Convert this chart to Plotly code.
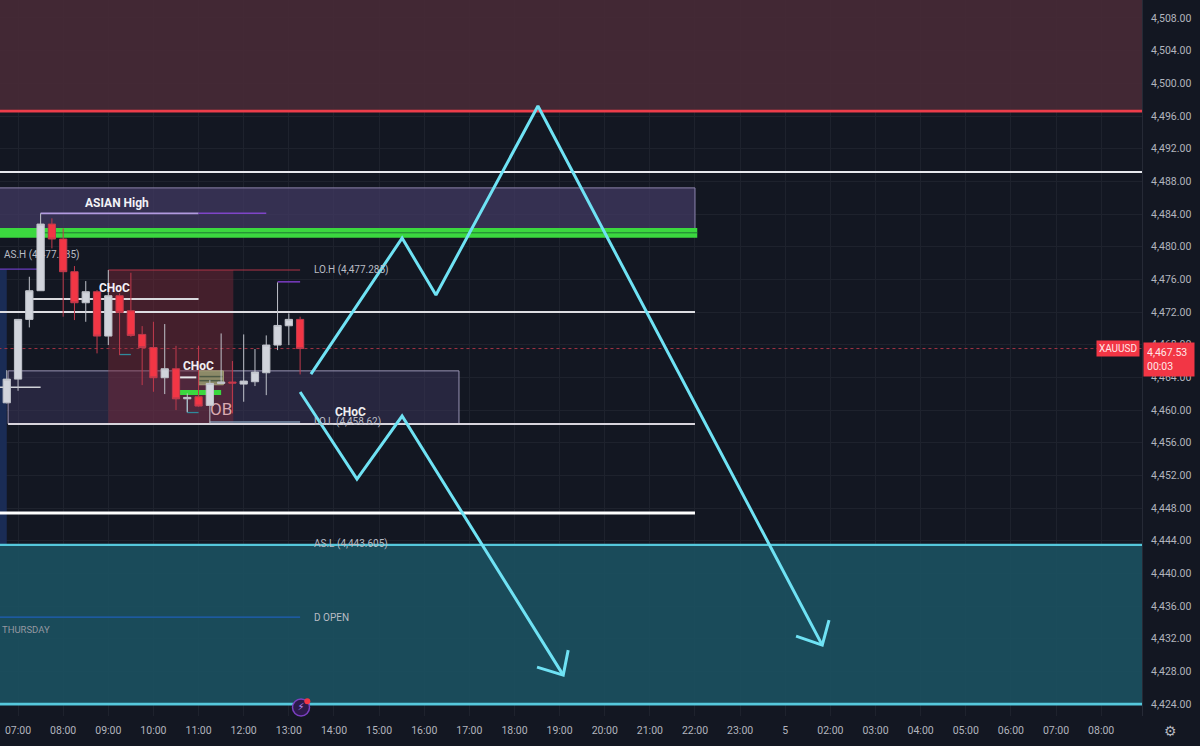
import plotly.graph_objects as go

FONT = "Roboto"
BG = "#131722"

# ---- data ----
candle_hours = [6.75, 7.0, 7.25, 7.5, 7.75, 8.0, 8.25, 8.5, 8.75, 9.0, 9.25, 9.5, 9.75,
                10.0, 10.25, 10.5, 10.75, 11.0, 11.25, 11.5, 11.75, 12.0, 12.25, 12.5,
                12.75, 13.0, 13.25]
candle_open = [4460.89, 4463.79, 4471.10, 4474.61, 4482.77, 4480.94, 4476.94, 4473.14, 4474.49,
               4469.06, 4474.00, 4472.16, 4469.26, 4467.66, 4463.96, 4465.06, 4461.38, 4461.63,
               4460.57, 4463.26, 4463.43, 4463.18, 4463.47, 4464.57, 4467.96, 4470.32, 4471.10]
candle_close = [4463.79, 4471.10, 4474.61, 4482.77, 4480.94, 4476.94, 4473.14, 4474.49, 4469.06,
                4474.00, 4471.96, 4469.14, 4467.66, 4463.96, 4465.06, 4461.38, 4461.55, 4460.49,
                4463.26, 4463.43, 4463.30, 4463.55, 4464.65, 4467.96, 4470.36, 4471.10, 4467.53]
candle_high = [4464.89, 4471.10, 4476.32, 4484.08, 4483.47, 4482.24, 4477.63, 4475.79, 4474.69,
               4477.14, 4474.28, 4476.81, 4470.28, 4470.81, 4470.53, 4467.87, 4462.04, 4467.87,
               4463.67, 4469.38, 4466.00, 4469.26, 4467.47, 4469.14, 4475.63, 4471.83, 4471.43]
candle_low = [4460.81, 4462.36, 4470.12, 4474.61, 4479.79, 4471.43, 4471.02, 4470.81, 4466.94,
              4467.96, 4466.73, 4468.98, 4463.06, 4462.24, 4461.96, 4460.00, 4459.79, 4460.40,
              4458.36, 4463.18, 4459.59, 4461.02, 4462.94, 4461.83, 4467.34, 4467.96, 4464.36]

tick_hours = list(range(7, 32))
tick_labels = ["07:00", "08:00", "09:00", "10:00", "11:00", "12:00", "13:00", "14:00", "15:00",
               "16:00", "17:00", "18:00", "19:00", "20:00", "21:00", "22:00", "23:00", "5",
               "02:00", "03:00", "04:00", "05:00", "06:00", "07:00", "08:00"]
price_ticks = list(range(4424, 4512, 4))

last_price = 4467.53
supply_top, supply_bottom = 4510.3, 4496.6
demand_top, demand_bottom = 4443.5, 4424.0

path_up_x = [13.49, 15.51, 16.26, 18.52, 24.82]
path_up_y = [4464.41, 4481.06, 4474.08, 4497.22, 4431.23]
head_up_x = [24.24, 24.82, 24.97]
head_up_y = [4432.33, 4431.23, 4434.29]
path_down_x = [13.25, 14.51, 15.51, 19.08]
path_down_y = [4462.21, 4451.55, 4459.27, 4427.55]
head_down_x = [18.50, 19.08, 19.19]
head_down_y = [4428.53, 4427.55, 4430.61]

XMIN, XMAX = 6.6, 31.905
YMIN, YMAX = 4422.55, 4510.2
XOFF = XMIN - 0.3  # levels that run off the left edge

shapes = []


def rect(x0, x1, y0, y1, fill, line=None, lw=1):
    shapes.append(dict(type="rect", layer="between", x0=x0, x1=x1, y0=y0, y1=y1, xref="x", yref="y",
                       fillcolor=fill, line=dict(color=line or "rgba(0,0,0,0)", width=lw if line else 0)))


def seg(x0, x1, y0, y1, color, w=1.5, dash="solid"):
    shapes.append(dict(type="line", layer="between", x0=x0, x1=x1, y0=y0, y1=y1, xref="x", yref="y",
                       line=dict(color=color, width=w, dash=dash)))


def under_label(x0, x1, y0, y1, text, color, size):
    shapes.append(dict(type="rect", layer="between", x0=x0, x1=x1, y0=y0, y1=y1, xref="x", yref="y",
                       line=dict(width=0), fillcolor="rgba(0,0,0,0)",
                       label=dict(text=text, font=dict(color=color, size=size, family=FONT),
                                  textposition="middle center")))


# zones
rect(XOFF, XMAX, supply_bottom, supply_top, "rgba(70,42,54,0.92)")
rect(XOFF, XMAX, demand_bottom, demand_top, "rgba(27,80,96,0.92)")
rect(XOFF, 6.75, demand_top, 4477.2, "#1a2c55")
rect(XOFF, 22.0, 4481.3, 4487.2, "rgba(66,58,100,0.72)", "#8d84ad", 1)
rect(6.78, 16.77, 4458.3, 4464.8, "rgba(60,54,92,0.5)", "#9a93b5", 1)
rect(9.0, 11.77, 4458.3, 4477.14, "rgba(128,42,58,0.45)")
rect(11.0, 11.55, 4463.1, 4464.8, "#8c8a68", "#a59f78", 1)
seg(11.02, 11.53, 4464.1, 4464.1, "#4d5a45", 1.5)
seg(11.02, 11.53, 4463.6, 4463.6, "#4d5a45", 1.5)

# horizontal levels
seg(XOFF, XMAX, 4489.15, 4489.15, "#e8e9ee", 2)
seg(XOFF, 22.0, 4472.0, 4472.0, "#dddde2", 2)
seg(6.78, 22.0, 4458.3, 4458.3, "#d8d4dc", 2)
seg(XOFF, 22.0, 4447.4, 4447.4, "#ffffff", 3)
seg(XOFF, XMAX, supply_bottom, supply_bottom, "#ec3d4a", 2.6)
seg(XOFF, XMAX, demand_top, demand_top, "#55c8dc", 2.4)
seg(XOFF, XMAX, demand_bottom, demand_bottom, "#55c8dc", 2.6)
rect(XOFF, 22.05, 4481.1, 4482.3, "#3bd83f")
seg(7.5, 22.05, 4481.7, 4481.7, "#1f7a35", 1)

# ASIAN high, session levels and small structure marks
seg(7.5, 11.0, 4484.08, 4484.08, "#b29ae0", 1.8)
seg(11.0, 12.5, 4484.08, 4484.08, "#7f45c8", 1.5)
seg(XOFF, 7.45, 4477.25, 4477.25, "#6a3cc0", 1.3)
seg(9.0, 13.25, 4477.15, 4477.15, "#b23446", 1.2)
seg(12.75, 13.25, 4475.7, 4475.7, "#7b3cc4", 1.5)
seg(7.33, 11.0, 4473.6, 4473.6, "#d9dade", 2)
seg(XOFF, 7.5, 4462.8, 4462.8, "#d0d2d8", 1.5)
seg(10.55, 10.95, 4464.0, 4464.0, "#e6e6ea", 2)
rect(10.55, 11.5, 4461.85, 4462.45, "#3bd83f")
seg(9.25, 9.5, 4466.8, 4466.8, "#2f8a9c", 1.3)
seg(10.75, 11.0, 4459.7, 4459.7, "#2f8a9c", 1.3)
seg(10.75, 10.75, 4459.7, 4461.3, "#6ba4b4", 1.3)
seg(11.25, 13.25, 4458.55, 4458.55, "#7d93ad", 1.5)
seg(XOFF, 13.25, 4434.65, 4434.65, "#1f5fb8", 1.2)

# dotted last-price line
seg(XOFF, XMAX, last_price, last_price, "#a23344", 1, "dot")

# labels sitting underneath the candles
under_label(6.6, 8.45, 4478.3, 4479.9, "AS.H (4,477.385)", "#b9bcc4", 10)
under_label(11.25, 11.75, 4459.4, 4461.2, "OB", "#d9a9b0", 17)

fig = go.Figure()

fig.add_trace(go.Candlestick(
    x=candle_hours, open=candle_open, high=candle_high, low=candle_low, close=candle_close,
    increasing=dict(line=dict(color="#bfc2ca", width=1), fillcolor="#d1d4dc"),
    decreasing=dict(line=dict(color="#c03a4c", width=1), fillcolor="#f23645"),
    whiskerwidth=0, showlegend=False, hoverinfo="skip"))

for xs, ys in [(path_up_x, path_up_y), (head_up_x, head_up_y),
               (path_down_x, path_down_y), (head_down_x, head_down_y)]:
    fig.add_trace(go.Scatter(x=xs, y=ys, mode="lines", showlegend=False, hoverinfo="skip",
                             line=dict(color="#6fe2f4", width=3)))

# news icon on the time scale
fig.add_trace(go.Scatter(x=[13.27], y=[4423.6], mode="markers+text", text=["⚡"], showlegend=False,
                         hoverinfo="skip", cliponaxis=False, textposition="middle center",
                         textfont=dict(size=10, color="#b287f0", family="DejaVu Sans"),
                         marker=dict(size=17, color="#2c1a4a", line=dict(color="#7a3fc0", width=1.5))))
fig.add_trace(go.Scatter(x=[13.41], y=[4424.35], mode="markers", showlegend=False, hoverinfo="skip",
                         cliponaxis=False, marker=dict(size=6, color="#f23645")))


def note(x, y, text, size=10, color="#b9bcc4", bold=False, anchor="left"):
    fig.add_annotation(x=x, y=y, xref="x", yref="y", xanchor=anchor, yanchor="middle", showarrow=False,
                       text=f"<b>{text}</b>" if bold else text,
                       font=dict(size=size, color=color, family=FONT))


note(8.45, 4485.3, "ASIAN High", 12, "#f2f2f6", True)
note(8.74, 4474.95, "CHoC", 12, "#f2f2f6", True)
note(10.6, 4465.4, "CHoC", 12, "#f0eef0", True)
note(13.98, 4459.75, "CHoC", 12, "#eeeeee", True)
note(13.52, 4477.15, "LO.H (4,477.285)")
note(13.52, 4458.55, "LO.L (4,458.62)")
note(13.52, 4443.6, "AS.L (4,443.605)")
note(13.52, 4434.65, "D OPEN")
note(6.6, 4433.2, "THURSDAY", 9.5, "#9598a1")

# price tags
fig.add_annotation(xref="paper", x=0.9985, y=last_price, yref="y", xanchor="right", yanchor="middle",
                   showarrow=False, text="XAUUSD", bgcolor="#f23645", borderpad=2, width=38, height=11,
                   font=dict(size=10, color="#ffe6e8", family=FONT))
fig.add_annotation(xref="paper", x=1.0, xshift=1, y=last_price, yref="y", xanchor="left", yanchor="top", yshift=7,
                   showarrow=False, text="4,467.53<br>00:03", align="left", bgcolor="#f23645", borderpad=3,
                   width=44, font=dict(size=10.5, color="#ffe6e8", family=FONT))
# settings glyph
fig.add_annotation(xref="paper", yref="paper", x=1.0248, y=-0.0205, xanchor="center", yanchor="middle",
                   showarrow=False, text="⚙", font=dict(size=14, color="#b2b5be", family="DejaVu Sans"))

fig.update_layout(
    width=1200, height=746, margin=dict(l=0, r=58, t=0, b=30),
    paper_bgcolor=BG, plot_bgcolor=BG, shapes=shapes, showlegend=False, boxgap=0.08,
    font=dict(family=FONT, color="#b2b5be"),
    xaxis=dict(range=[XMIN, XMAX], tickvals=tick_hours, ticktext=tick_labels, showgrid=True,
               gridcolor="#1e222d", gridwidth=1, zeroline=False, showline=False, ticks="",
               rangeslider=dict(visible=False), tickfont=dict(size=10.5, color="#b2b5be"), ticklabelstandoff=6),
    yaxis=dict(range=[YMIN, YMAX], side="right", tickvals=price_ticks, tickformat=",.2f", showgrid=True,
               gridcolor="#1e222d", gridwidth=1, zeroline=False, showline=True, linecolor="#262a36", ticks="",
               tickfont=dict(size=10.5, color="#b2b5be"), ticklabelstandoff=6),
)

fig.write_html("out.html", config={"displayModeBar": False},
               post_script="document.body.style.margin='0';document.documentElement.style.overflow='hidden';")
